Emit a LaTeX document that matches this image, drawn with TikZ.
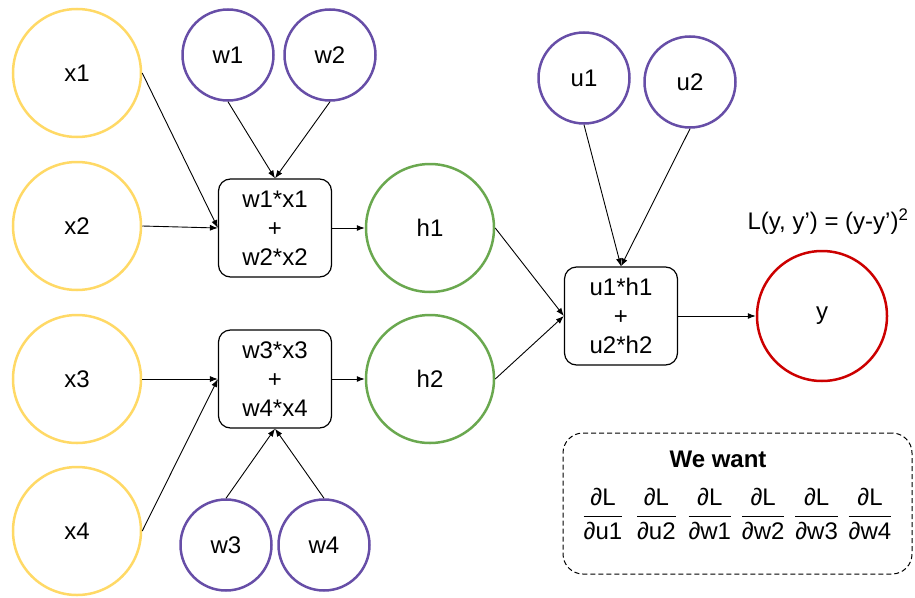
\documentclass[tikz,border=0pt]{standalone}
\usepackage{amsmath}
\usepackage{fontspec}
\setmainfont{Liberation Sans}
\usepackage{tikz}
\usetikzlibrary{arrows.meta}
\definecolor{inyellow}{HTML}{FFD966}
\definecolor{wpurple}{HTML}{674EA7}
\definecolor{hgreen}{HTML}{6AA84F}
\definecolor{outred}{HTML}{CC0000}
\tikzset{neuron/.style={circle, draw, line width=2.5pt, minimum size=#1, inner sep=0pt}}
\tikzset{neuron/.default=128pt}
\tikzset{input/.style={neuron, draw=inyellow}}
\tikzset{weight/.style={neuron=91pt, draw=wpurple}}
\tikzset{hidden/.style={neuron, draw=hgreen}}
\tikzset{output/.style={neuron=130pt, draw=outred}}
\tikzset{sumbox/.style={draw, rounded corners=12pt, line width=1.2pt, minimum width=113pt, minimum height=98pt, align=center}}
\tikzset{feed/.style={-{Latex[length=8pt, width=6pt]}, line width=0.9pt}}
\newcommand{\pdL}[1]{$\genfrac{}{}{1.2pt}{0}{\text{∂L}}{\text{∂#1}}$}

\begin{document}
\begin{tikzpicture}[x=1pt, y=-1pt, font=\fontsize{24}{29}\selectfont]
    \useasboundingbox (0,0) rectangle (915,597);
    % inputs and weights
    \node[input] (x1) at (77,73) {x1};
    \node[input] (x2) at (77,226) {x2};
    \node[input] (x3) at (77,379) {x3};
    \node[input] (x4) at (77,531) {x4};
    \node[weight] (w1) at (228,55) {w1};
    \node[weight] (w2) at (330,55) {w2};
    \node[weight] (w3) at (226,545) {w3};
    \node[weight] (w4) at (324,545) {w4};
    \node[weight] (u1) at (584,78) {u1};
    \node[weight] (u2) at (690,82) {u2};
    % sums, hidden units, output
    \node[sumbox] (sum1) at (275,228) {w1*x1\\+\\w2*x2};
    \node[sumbox] (sum2) at (275,379) {w3*x3\\+\\w4*x4};
    \node[sumbox] (sum3) at (621,316) {u1*h1\\+\\u2*h2};
    \node[hidden] (h1) at (430,228) {h1};
    \node[hidden] (h2) at (430,379) {h2};
    \node[output] (y) at (822,316) {y};
    \node (loss) at (828,222) {L(y, y’) = (y-y’)\textsuperscript{2}};
    % connections
    \draw[feed] (x1.east) -- (sum1.west);
    \draw[feed] (x2.east) -- (sum1.west);
    \draw[feed] (w1.south) -- (sum1.north);
    \draw[feed] (w2.south) -- (sum1.north);
    \draw[feed] (x3.east) -- (sum2.west);
    \draw[feed] (x4.east) -- (sum2.west);
    \draw[feed] (w3.north) -- (sum2.south);
    \draw[feed] (w4.north) -- (sum2.south);
    \draw[feed] (sum1.east) -- (h1.west);
    \draw[feed] (sum2.east) -- (h2.west);
    \draw[feed] (h1.east) -- (sum3.west);
    \draw[feed] (h2.east) -- (sum3.west);
    \draw[feed] (u1.south) -- (sum3.north);
    \draw[feed] (u2.south) -- (sum3.north);
    \draw[feed] (sum3.east) -- (y.west);
    % what we want
    \node[draw, dash pattern=on 5pt off 3pt, line width=1pt, rounded corners=20pt, minimum width=349pt, minimum height=141pt] (goal) at (737.5,503.5) {};
    \node[font=\fontsize{24}{29}\selectfont\bfseries] (want) at (718,459) {We want};
    \foreach \v [count=\i] in {u1,u2,w1,w2,w3,w4}
        \node (d\v) at ({603+53.4*(\i-1)},514) {\pdL{\v}};
\end{tikzpicture}
\end{document}
